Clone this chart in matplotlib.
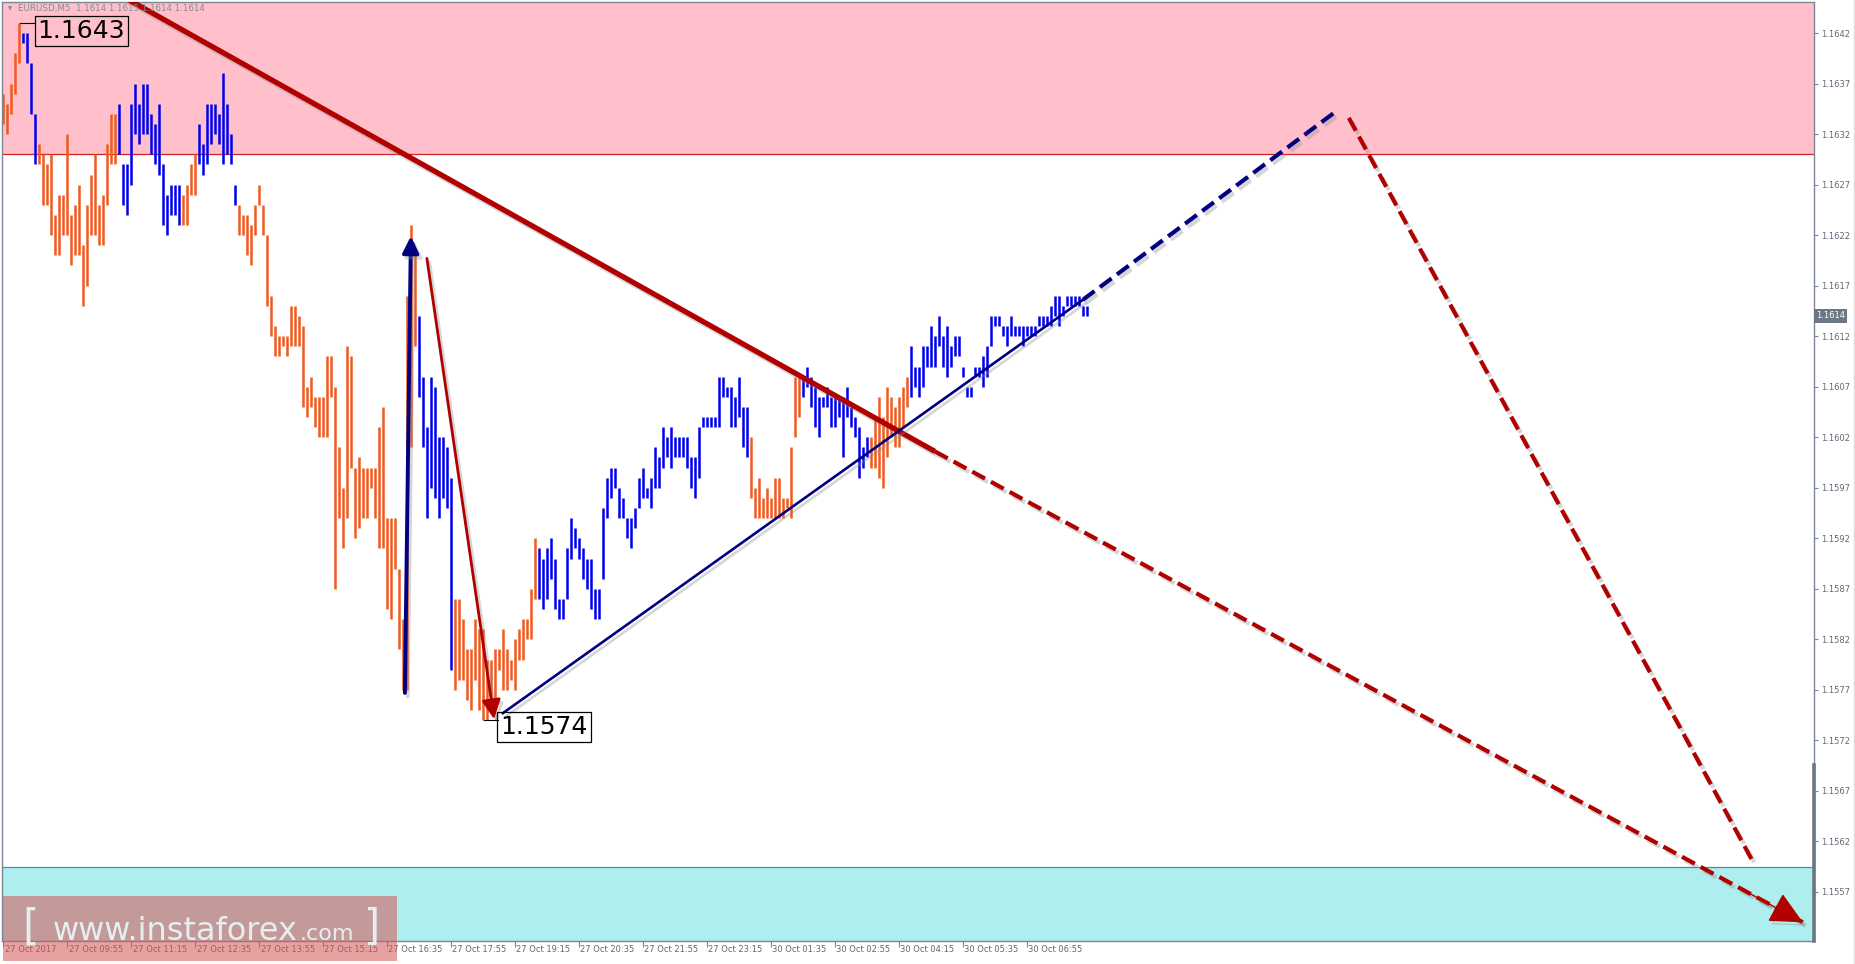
import matplotlib
matplotlib.use("Agg")
import matplotlib.pyplot as plt
import matplotlib.patheffects as pe
import matplotlib.transforms as mtransforms
from matplotlib.patches import Rectangle
import numpy as np

plt.rcParams['font.family'] = ['DejaVu Sans']

# EURUSD M5 bars, one row = 16 bars (one time label step)
highs = [
    1.1636, 1.1635, 1.1637, 1.1640, 1.1643, 1.1642, 1.1642, 1.1639, 1.1634, 1.1631, 1.1630, 1.1629, 1.1630, 1.1624, 1.1626, 1.1626,
    1.1632, 1.1624, 1.1625, 1.1627, 1.1621, 1.1625, 1.1628, 1.1630, 1.1625, 1.1626, 1.1631, 1.1634, 1.1634, 1.1635, 1.1629, 1.1629,
    1.1635, 1.1637, 1.1635, 1.1637, 1.1637, 1.1634, 1.1633, 1.1635, 1.1629, 1.1626, 1.1627, 1.1627, 1.1627, 1.1626, 1.1627, 1.1629,
    1.1630, 1.1633, 1.1631, 1.1635, 1.1635, 1.1635, 1.1634, 1.1638, 1.1635, 1.1632, 1.1627, 1.1625, 1.1624, 1.1624, 1.1623, 1.1625,
    1.1627, 1.1625, 1.1622, 1.1616, 1.1613, 1.1612, 1.1612, 1.1612, 1.1615, 1.1615, 1.1614, 1.1613, 1.1607, 1.1608, 1.1606, 1.1606,
    1.1606, 1.1610, 1.1610, 1.1607, 1.1601, 1.1597, 1.1611, 1.1610, 1.1599, 1.1600, 1.1599, 1.1599, 1.1599, 1.1599, 1.1603, 1.1605,
    1.1594, 1.1594, 1.1594, 1.1589, 1.1584, 1.1616, 1.1623, 1.1620, 1.1614, 1.1608, 1.1603, 1.1608, 1.1607, 1.1602, 1.1602, 1.1601,
    1.1598, 1.1586, 1.1586, 1.1584, 1.1581, 1.1581, 1.1584, 1.1583, 1.1583, 1.1580, 1.1580, 1.1581, 1.1581, 1.1583, 1.1581, 1.1580,
    1.1582, 1.1583, 1.1584, 1.1584, 1.1587, 1.1592, 1.1591, 1.1590, 1.1591, 1.1592, 1.1590, 1.1586, 1.1586, 1.1591, 1.1594, 1.1593,
    1.1592, 1.1591, 1.1590, 1.1590, 1.1587, 1.1587, 1.1595, 1.1598, 1.1599, 1.1599, 1.1597, 1.1596, 1.1594, 1.1594, 1.1595, 1.1598,
    1.1599, 1.1597, 1.1598, 1.1601, 1.1600, 1.1603, 1.1602, 1.1603, 1.1602, 1.1602, 1.1602, 1.1602, 1.1600, 1.1600, 1.1603, 1.1604,
    1.1604, 1.1604, 1.1604, 1.1608, 1.1608, 1.1607, 1.1607, 1.1606, 1.1608, 1.1605, 1.1605, 1.1602, 1.1597, 1.1598, 1.1596, 1.1597,
    1.1596, 1.1598, 1.1598, 1.1596, 1.1596, 1.1601, 1.1608, 1.1608, 1.1608, 1.1609, 1.1608, 1.1607, 1.1606, 1.1606, 1.1607, 1.1606,
    1.1606, 1.1606, 1.1606, 1.1607, 1.1605, 1.1604, 1.1603, 1.1601, 1.1602, 1.1602, 1.1604, 1.1606, 1.1604, 1.1607, 1.1606, 1.1605,
    1.1606, 1.1607, 1.1608, 1.1611, 1.1609, 1.1609, 1.1611, 1.1611, 1.1613, 1.1612, 1.1614, 1.1612, 1.1613, 1.1611, 1.1612, 1.1612,
    1.1609, 1.1607, 1.1607, 1.1609, 1.1609, 1.1610, 1.1611, 1.1614, 1.1614, 1.1614, 1.1613, 1.1613, 1.1614, 1.1613, 1.1613, 1.1613,
    1.1613, 1.1613, 1.1613, 1.1614, 1.1614, 1.1614, 1.1615, 1.1616, 1.1616, 1.1615, 1.1616, 1.1616, 1.1616, 1.1616, 1.1615, 1.1615,
]
lows = [
    1.1633, 1.1632, 1.1634, 1.1636, 1.1639, 1.1641, 1.1639, 1.1634, 1.1629, 1.1629, 1.1625, 1.1625, 1.1622, 1.1620, 1.1620, 1.1622,
    1.1622, 1.1619, 1.1620, 1.1620, 1.1615, 1.1617, 1.1622, 1.1622, 1.1621, 1.1621, 1.1625, 1.1629, 1.1629, 1.1630, 1.1625, 1.1624,
    1.1627, 1.1632, 1.1631, 1.1632, 1.1632, 1.1630, 1.1629, 1.1628, 1.1623, 1.1622, 1.1624, 1.1624, 1.1623, 1.1623, 1.1623, 1.1626,
    1.1626, 1.1629, 1.1628, 1.1629, 1.1631, 1.1632, 1.1631, 1.1629, 1.1630, 1.1629, 1.1625, 1.1622, 1.1622, 1.1620, 1.1619, 1.1622,
    1.1625, 1.1622, 1.1615, 1.1612, 1.1610, 1.1610, 1.1611, 1.1610, 1.1611, 1.1611, 1.1611, 1.1605, 1.1604, 1.1605, 1.1603, 1.1602,
    1.1602, 1.1602, 1.1606, 1.1587, 1.1594, 1.1591, 1.1594, 1.1599, 1.1592, 1.1593, 1.1594, 1.1594, 1.1597, 1.1594, 1.1591, 1.1591,
    1.1585, 1.1584, 1.1589, 1.1581, 1.1577, 1.1577, 1.1601, 1.1611, 1.1606, 1.1601, 1.1594, 1.1597, 1.1596, 1.1594, 1.1596, 1.1595,
    1.1579, 1.1577, 1.1578, 1.1578, 1.1576, 1.1575, 1.1578, 1.1575, 1.1574, 1.1574, 1.1575, 1.1576, 1.1579, 1.1577, 1.1577, 1.1578,
    1.1577, 1.1580, 1.1580, 1.1582, 1.1582, 1.1586, 1.1586, 1.1585, 1.1586, 1.1588, 1.1585, 1.1584, 1.1584, 1.1586, 1.1590, 1.1591,
    1.1590, 1.1588, 1.1587, 1.1585, 1.1584, 1.1584, 1.1588, 1.1594, 1.1596, 1.1597, 1.1594, 1.1594, 1.1592, 1.1591, 1.1593, 1.1595,
    1.1596, 1.1596, 1.1595, 1.1597, 1.1597, 1.1599, 1.1600, 1.1599, 1.1600, 1.1600, 1.1600, 1.1599, 1.1597, 1.1596, 1.1598, 1.1603,
    1.1603, 1.1603, 1.1603, 1.1603, 1.1606, 1.1606, 1.1603, 1.1603, 1.1604, 1.1601, 1.1600, 1.1596, 1.1594, 1.1594, 1.1594, 1.1594,
    1.1594, 1.1594, 1.1594, 1.1594, 1.1595, 1.1594, 1.1602, 1.1604, 1.1606, 1.1607, 1.1605, 1.1603, 1.1602, 1.1605, 1.1605, 1.1603,
    1.1603, 1.1604, 1.1600, 1.1604, 1.1603, 1.1602, 1.1598, 1.1599, 1.1600, 1.1599, 1.1599, 1.1598, 1.1597, 1.1600, 1.1602, 1.1601,
    1.1601, 1.1603, 1.1605, 1.1606, 1.1607, 1.1606, 1.1607, 1.1609, 1.1609, 1.1609, 1.1611, 1.1609, 1.1608, 1.1609, 1.1610, 1.1610,
    1.1608, 1.1606, 1.1606, 1.1608, 1.1608, 1.1607, 1.1608, 1.1611, 1.1613, 1.1613, 1.1612, 1.1611, 1.1612, 1.1612, 1.1612, 1.1611,
    1.1612, 1.1612, 1.1612, 1.1613, 1.1613, 1.1613, 1.1613, 1.1614, 1.1613, 1.1614, 1.1615, 1.1615, 1.1615, 1.1615, 1.1614, 1.1614,
]
# u = bull bar (blue), d = bear bar (orange)
dirs = ("ddddduuuuddddddd" "ddddddddddddduuu" "uuuuuuuuuuuuuddd" "duuuuuuuuuuddddd"
        "dddddddddddddddd" "dddddddddddddddd" "dddddddduuuuuuuu" "uddddddddddddddd"
        "dddddduuuuuuuuuu" "uuuuuuuuuuuuuuuu" "uuuuuuuuuuuuuuuu" "uuuuuuuuuuuddddd"
        "dddddddduuuuuuuu" "uuuuuuuuuddddddd" "ddduuuuuuuuuuuuu" "uuuuuuuuuuuuuuuu"
        "uuuuuuuuuuuuuuuu")

time_labels = ["27 Oct 2017", "27 Oct 09:55", "27 Oct 11:15", "27 Oct 12:35", "27 Oct 13:55",
               "27 Oct 15:15", "27 Oct 16:35", "27 Oct 17:55", "27 Oct 19:15", "27 Oct 20:35",
               "27 Oct 21:55", "27 Oct 23:15", "30 Oct 01:35", "30 Oct 02:55", "30 Oct 04:15",
               "30 Oct 05:35", "30 Oct 06:55"]
bars_per_label = 16
price_ticks = [1.1557, 1.1562, 1.1567, 1.1572, 1.1577, 1.1582, 1.1587, 1.1592, 1.1597,
               1.1602, 1.1607, 1.1612, 1.1617, 1.1622, 1.1627, 1.1632, 1.1637, 1.1642]
last_price = 1.1614
header = "EURUSD,M5  1.1614 1.1615 1.1614 1.1614"

resist_level = 1.1630    # pink zone from here up
support_level = 1.15595  # cyan zone from here down

# analyst drawings, (bar index, price)
big_down_solid = ([20.0, 232.9], [1.16478, 1.16006])
big_down_dash = ([232.9, 449.9], [1.16006, 1.15540])
spike_up = ([100.4, 101.9], [1.15767, 1.16219])
spike_down = ([105.9, 122.7], [1.16197, 1.15741])
rise_solid = ([124.9, 269.9], [1.15747, 1.16156])
rise_dash = ([269.9, 332.7], [1.16156, 1.16341])
fall_dash = ([336.4, 437.7], [1.16336, 1.15598])

ORANGE = '#F05A1E'
BLUE = '#0000EE'
DRED = '#B00000'
NAVY = '#000080'
GREY = '#5E6975'

fig = plt.figure(figsize=(18.56, 9.64), dpi=100)
ax = fig.add_axes([2 / 1856, 23 / 964, 1812 / 1856, 939 / 964])
ax.set_xlim(-0.33, 452.7)
ax.set_ylim(1.155215, 1.164507)

ax.axhspan(resist_level, 1.17, color='#FFC0CB', lw=0, zorder=0)
ax.axhline(resist_level, color='#D42020', lw=0.9, zorder=0.5)
ax.axhspan(1.15, support_level, color='#AFEEEE', lw=0, zorder=0)
ax.axhline(support_level, color='#4A88C0', lw=0.9, zorder=0.5)

idx = np.arange(len(highs))
cols = [BLUE if c == 'u' else ORANGE for c in dirs]
ax.vlines(idx, lows, highs, colors=cols, lw=1.8, zorder=2)

shadow = [pe.SimpleLineShadow(offset=(2, -2.5), shadow_color='#8C8C8C', alpha=0.35), pe.Normal()]

ax.plot(*big_down_solid, color=DRED, lw=3.8, solid_capstyle='butt', zorder=4, path_effects=shadow)
ax.plot(*big_down_dash, color=DRED, lw=3.0, dashes=(3.5, 1.6), zorder=4, path_effects=shadow)
ax.plot(*fall_dash, color=DRED, lw=3.0, dashes=(3.5, 1.6), zorder=4, path_effects=shadow)
ax.plot(*rise_solid, color=NAVY, lw=1.9, zorder=4, path_effects=shadow)
ax.plot(*rise_dash, color=NAVY, lw=3.0, dashes=(3.5, 1.6), zorder=4, path_effects=shadow)


def arrow(xs, ys, color, lw, ms, head_only=False):
    x0, x1 = xs
    y0, y1 = ys
    if head_only:
        x0 = x1 + 0.06 * (x0 - x1)
        y0 = y1 + 0.06 * (y0 - y1)
    a = ax.annotate('', xy=(x1, y1), xytext=(x0, y0),
                    arrowprops=dict(arrowstyle='-|>,head_length=0.45,head_width=0.22',
                                    color=color, lw=lw, mutation_scale=ms,
                                    shrinkA=0, shrinkB=0), zorder=5)
    a.arrow_patch.set_path_effects(shadow)


arrow(*spike_up, NAVY, 2.8, 22)
arrow(*spike_down, DRED, 2.0, 26)
arrow(*big_down_dash, DRED, 1.0, 46, head_only=True)

# high / low price boxes
ax.plot([4.2, 7.6], [highs[4], highs[4]], color='black', lw=0.8, zorder=5)
ax.text(8.6, 1.16422, '1.1643', fontsize=18, ha='left', va='center', zorder=6,
        bbox=dict(boxstyle='square,pad=0.12', fc='none', ec='black', lw=0.9))
low_i = int(np.argmin(lows))
ax.plot([low_i + 0.3, 123.6], [lows[low_i], lows[low_i]], color='black', lw=0.8, zorder=5)
ax.text(124.3, 1.15733, '1.1574', fontsize=18, ha='left', va='center', zorder=6,
        bbox=dict(boxstyle='square,pad=0.12', fc='none', ec='black', lw=0.9))

# axes look
for s in ax.spines.values():
    s.set_color('#7B8794')
    s.set_linewidth(1.0)
ax.yaxis.tick_right()
ax.set_yticks(price_ticks)
ax.set_yticklabels([f"{p:.4f}" for p in price_ticks])
ax.tick_params(axis='y', length=3, width=0.8, color='#7B8794', labelsize=6,
               labelcolor=GREY, pad=2)
ax.set_xticks(np.arange(len(time_labels)) * bars_per_label)
ax.tick_params(axis='x', length=4, width=0.8, color='#7B8794', labelbottom=False)
for k, lab in enumerate(time_labels):
    ax.text(k * bars_per_label + 0.3, -0.0095, lab, transform=ax.get_xaxis_transform(),
            ha='left', va='center', fontsize=6, color=GREY)

ytrans = mtransforms.blended_transform_factory(ax.transAxes, ax.transData)
ax.text(1.0012, last_price, f"{last_price:.4f}", transform=ytrans, ha='left', va='center',
        fontsize=6, color='white', zorder=7,
        bbox=dict(boxstyle='square,pad=0.25', fc='#6B7785', ec='none'))
ax.plot([1.0, 1.0], [1.155215, 1.15696], transform=ytrans, color='#6B7785', lw=2.6,
        clip_on=False, zorder=7)

fig.text(8 / 1856, 1 - 9 / 964, '\u25bc', fontsize=4, color='#8A8A8A', va='center')
fig.text(18 / 1856, 1 - 9 / 964, header, fontsize=6.3, color='#8A8A8A', va='center')
fig.add_artist(plt.Line2D([1854 / 1856] * 2, [0, 1], color='#DDDDDD', lw=1))

# watermark
fig.patches.append(Rectangle((3 / 1856, 3 / 964), 394 / 1856, 65 / 964,
                             transform=fig.transFigure, fc=(0.83, 0.33, 0.33), alpha=0.55,
                             ec='none', zorder=10))
wm = dict(color='#E8F4F4', alpha=0.95, va='baseline', zorder=11)
fig.text(22 / 1856, 24 / 964, '[', fontsize=30, **wm)
fig.text(53 / 1856, 24 / 964, 'www.instaforex', fontsize=23, **wm)
fig.text(300 / 1856, 24 / 964, '.com', fontsize=16, **wm)
fig.text(364 / 1856, 24 / 964, ']', fontsize=30, **wm)

fig.savefig('out.png', dpi=100)
